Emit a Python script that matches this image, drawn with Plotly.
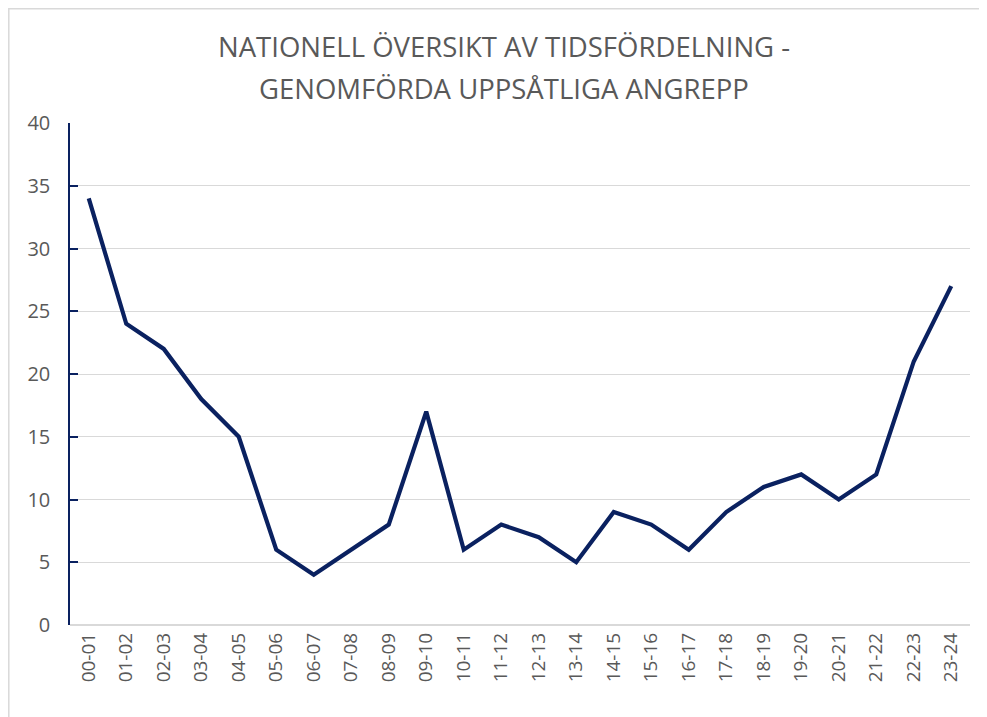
import plotly.graph_objects as go

categories = ["00-01","01-02","02-03","03-04","04-05","05-06","06-07","07-08","08-09","09-10",
              "10-11","11-12","12-13","13-14","14-15","15-16","16-17","17-18","18-19","19-20",
              "20-21","21-22","22-23","23-24"]
values = [34,24,22,18,15,6,4,6,8,17,6,8,7,5,9,8,6,9,11,12,10,12,21,27]
y_ticks = [0,5,10,15,20,25,30,35,40]
title_lines = ["NATIONELL ÖVERSIKT AV TIDSFÖRDELNING -", "GENOMFÖRDA UPPSÅTLIGA ANGREPP"]

W, H = 987, 717
OFF = 8  # default page body margin
ml, mr, mt, mb = 70 - OFF, 25, 123 - OFF, 100
pw, ph = W - ml - mr, H - mt - mb

def px(x):
    return (x - OFF - ml) / pw

def py(y):
    return (H - mb - (y - OFF)) / ph

fig = go.Figure()
fig.add_trace(go.Scatter(x=categories, y=values, mode="lines",
                         line=dict(color="#0a2160", width=4.2)))

annotations = []
for txt, yc in zip(title_lines, [47, 88]):
    annotations.append(dict(text=txt, xref="paper", yref="paper", x=px(504), y=py(yc),
                            xanchor="center", yanchor="middle", showarrow=False,
                            font=dict(size=27.5, color="#595959", family="Open Sans")))

fig.update_layout(
    width=W, height=H,
    margin=dict(l=ml, r=mr, t=mt, b=mb, autoexpand=False),
    paper_bgcolor="white", plot_bgcolor="white",
    showlegend=False,
    font=dict(family="Open Sans", color="#595959"),
    annotations=annotations,
    xaxis=dict(type="category", range=[-0.5, 23.5], tickangle=-90,
               tickfont=dict(size=19, color="#595959"), showgrid=False,
               showline=False, ticks="", zeroline=False, ticklabelstandoff=3),
    yaxis=dict(range=[0, 40], tickvals=y_ticks, tickfont=dict(size=20, color="#595959"),
               showgrid=True, gridcolor="#d9d9d9", gridwidth=1,
               showline=True, linecolor="#0a2160", linewidth=1.5,
               ticks="inside", ticklen=8, tickcolor="#0a2160", tickwidth=1.5,
               zeroline=True, zerolinecolor="#d9d9d9", zerolinewidth=1.5,
               ticklabelstandoff=14),
    shapes=[dict(type="rect", xref="paper", yref="paper",
                 x0=px(OFF + 0.8), x1=px(W + 200), y0=py(H + 200), y1=py(OFF + 0.8),
                 line=dict(color="#d9d9d9", width=1.5), fillcolor="rgba(0,0,0,0)", layer="below")],
)

fig.write_html("out.html")
